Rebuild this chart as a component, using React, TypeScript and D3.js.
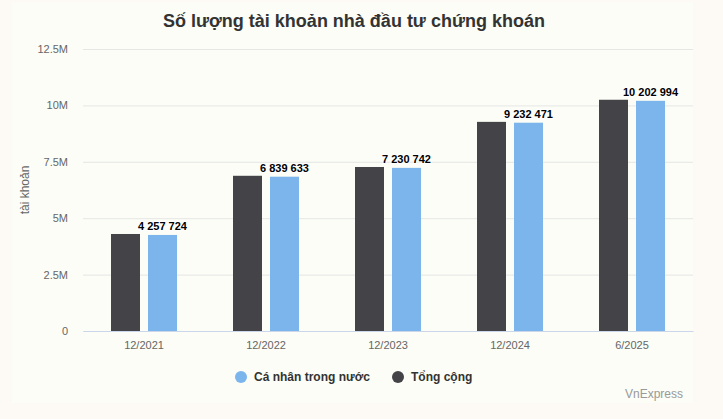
import * as React from "react";
import { useEffect, useRef } from "react";
import { select, scaleBand, scaleLinear, axisLeft, axisBottom } from "d3";

const categories = ["12/2021", "12/2022", "12/2023", "12/2024", "6/2025"];
const domestic = [4257724, 6839633, 7230742, 9232471, 10202994];
const total = [4300000, 6880000, 7270000, 9270000, 10250000];
const yTicks = [0, 2500000, 5000000, 7500000, 10000000, 12500000];

const W = 723;
const H = 419;
const FONT = "'Liberation Sans', Arial, sans-serif";
const DARK = "#434348";
const BLUE = "#7cb5ec";

function fmtTick(v: number) {
  return v === 0 ? "0" : `${v / 1e6}M`;
}

function fmtValue(v: number) {
  return String(v).replace(/\B(?=(\d{3})+(?!\d))/g, " ");
}

function Chart() {
  const svgRef = useRef<SVGSVGElement>(null);

  useEffect(() => {
    const svg = select(svgRef.current);
    svg.selectAll("*").remove();

    const left = 83;
    const right = 693;
    const top = 49;
    const bottom = 331;

    // container backgrounds
    svg.append("rect").attr("width", W).attr("height", H).attr("fill", "#fdfaf6");
    svg
      .append("rect")
      .attr("x", 12)
      .attr("y", 2)
      .attr("width", 681)
      .attr("height", 401)
      .attr("fill", "#fbfdf6");

    const x = scaleBand().domain(categories).range([left, right]);
    const y = scaleLinear().domain([0, 12500000]).range([bottom, top]);

    const yAxis: any = axisLeft(y)
      .tickValues(yTicks)
      .tickFormat((d: any) => fmtTick(d))
      .tickSize(-(right - left))
      .tickPadding(15);

    const gy = svg
      .append("g")
      .attr("transform", `translate(${left},0)`)
      .call(yAxis);
    gy.select(".domain").remove();
    gy.selectAll(".tick line").attr("stroke", "#e6e6e6");
    gy.selectAll(".tick text")
      .attr("fill", "#666666")
      .style("font-family", FONT)
      .style("font-size", "11px");

    const xAxis: any = axisBottom(x).tickSize(0).tickPadding(10);
    const gx = svg
      .append("g")
      .attr("transform", `translate(0,${bottom})`)
      .call(xAxis);
    gx.select(".domain").attr("stroke", "#ccd6eb");
    gx.selectAll(".tick text")
      .attr("fill", "#666666")
      .style("font-family", FONT)
      .style("font-size", "11px");

    const barW = 29;
    const gap = 8;

    // total bars (left, dark)
    svg
      .selectAll(".bar-total")
      .data(total)
      .join("rect")
      .attr("class", "bar-total")
      .attr("x", (d, i) => x(categories[i])! + x.bandwidth() / 2 - gap / 2 - barW)
      .attr("y", (d) => y(d))
      .attr("width", barW)
      .attr("height", (d) => bottom - y(d))
      .attr("fill", DARK);

    // domestic bars (right, blue)
    svg
      .selectAll(".bar-dom")
      .data(domestic)
      .join("rect")
      .attr("class", "bar-dom")
      .attr("x", (d, i) => x(categories[i])! + x.bandwidth() / 2 + gap / 2)
      .attr("y", (d) => y(d))
      .attr("width", barW)
      .attr("height", (d) => bottom - y(d))
      .attr("fill", BLUE);

    svg
      .selectAll(".lbl")
      .data(domestic)
      .join("text")
      .attr("class", "lbl")
      .attr("x", (d, i) => x(categories[i])! + x.bandwidth() / 2 + gap / 2 + barW / 2)
      .attr("y", (d) => y(d) - 5)
      .attr("text-anchor", "middle")
      .style("font-family", FONT)
      .style("font-size", "11px")
      .style("font-weight", "bold")
      .attr("fill", "#000000")
      .attr("stroke", "#ffffff")
      .attr("stroke-width", 2)
      .attr("paint-order", "stroke")
      .attr("stroke-linejoin", "round")
      .text((d) => fmtValue(d));

    // title
    svg
      .append("text")
      .attr("x", 354)
      .attr("y", 27)
      .attr("text-anchor", "middle")
      .style("font-family", FONT)
      .style("font-size", "18px")
      .style("font-weight", "bold")
      .attr("fill", "#333333")
      .text("Số lượng tài khoản nhà đầu tư chứng khoán");

    // y axis title
    svg
      .append("text")
      .attr("transform", `translate(29,190) rotate(-90)`)
      .attr("text-anchor", "middle")
      .style("font-family", FONT)
      .style("font-size", "12px")
      .attr("fill", "#666666")
      .text("tài khoản");

    // legend
    const legend = [
      { name: "Cá nhân trong nước", color: BLUE, cx: 241 },
      { name: "Tổng cộng", color: DARK, cx: 398 },
    ];
    const lg = svg.selectAll(".leg").data(legend).join("g").attr("class", "leg");
    lg.append("circle")
      .attr("cx", (d) => d.cx)
      .attr("cy", 377)
      .attr("r", 6)
      .attr("fill", (d) => d.color);
    lg.append("text")
      .attr("x", (d) => d.cx + 13)
      .attr("y", 381)
      .style("font-family", FONT)
      .style("font-size", "12px")
      .style("font-weight", "bold")
      .attr("fill", "#333333")
      .text((d) => d.name);

    // credit
    svg
      .append("text")
      .attr("x", 683)
      .attr("y", 398)
      .attr("text-anchor", "end")
      .style("font-family", FONT)
      .style("font-size", "12px")
      .attr("fill", "#999999")
      .text("VnExpress");
  }, []);

  return <svg ref={svgRef} width={W} height={H} />;
}

export default function App() {
  return (
    <div style={{ position: "fixed", left: 0, top: 0 }}>
      <Chart />
    </div>
  );
}
